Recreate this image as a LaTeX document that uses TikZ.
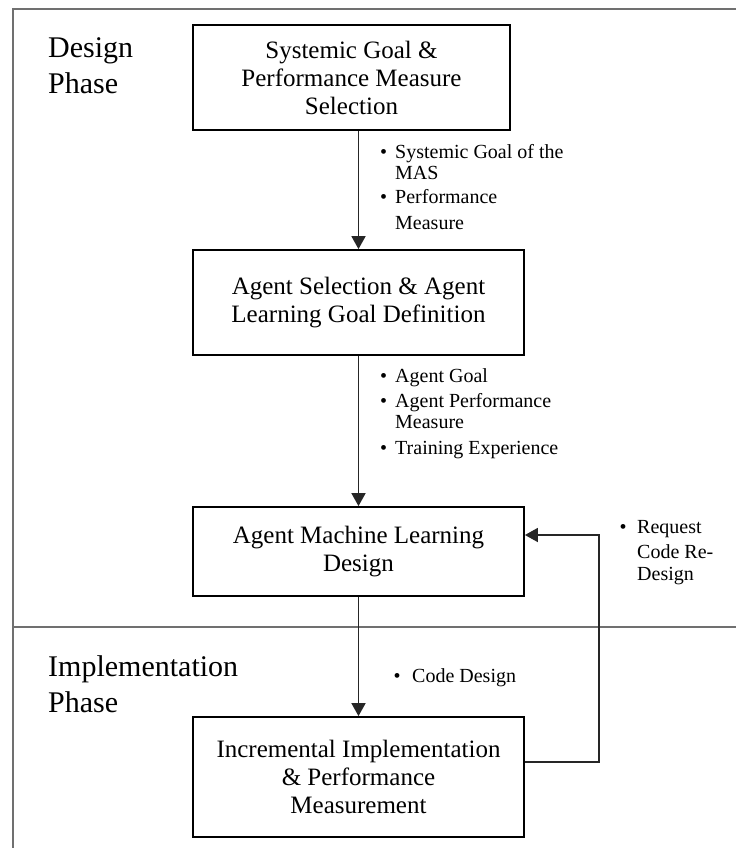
\documentclass[tikz,border=0pt]{standalone}
\usepackage{fontspec}
\setmainfont{Liberation Serif}
\usetikzlibrary{arrows.meta}
\definecolor{framegray}{HTML}{707070}
\definecolor{arrgray}{HTML}{262626}
\tikzset{
  box/.style={draw=black, line width=1.8pt, align=center, inner sep=0pt,
    font=\fontsize{25}{28}\selectfont},
  arr/.style={draw=arrgray, line width=1.7pt, -{Triangle[length=13pt,width=14pt]}},
  frameline/.style={draw=framegray, line width=1.4pt},
  phase/.style={anchor=base west, inner sep=0pt, align=left, font=\fontsize{30}{36}\selectfont},
  lbl/.style={anchor=base west, inner sep=0pt, font=\fontsize{20}{22}\selectfont}
}
\begin{document}
\begin{tikzpicture}[x=1pt,y=-1pt]
\useasboundingbox (0,0) rectangle (736,848);
\fill[white] (0,0) rectangle (736,848);
% frame
\draw[frameline] (736,9) -- (13,9) -- (13,848);
\draw[frameline] (13,627) -- (736,627);
% phase labels (base = last line)
\node[phase] (dp) at (48,94) {Design\\Phase};
\node[phase] (ip) at (48,712) {Implementation\\Phase};
% boxes
\node[box, minimum width=317pt, minimum height=105pt] (b1) at (351.5,77.5)
  {Systemic Goal \&\\Performance Measure\\Selection};
\node[box, minimum width=331pt, minimum height=105pt] (b2) at (358.5,302.5)
  {Agent Selection \& Agent\\Learning Goal Definition};
\node[box, minimum width=331pt, minimum height=89pt] (b3) at (358.5,551.5)
  {Agent Machine Learning\\Design};
\node[box, minimum width=331pt, minimum height=120pt] (b4) at (358.5,777)
  {Incremental Implementation\\\& Performance\\Measurement};
% arrows
\draw[arr] (b1.south -| b2.north) -- (b2.north);
\draw[arr] (b2.south) -- (b3.north);
\draw[arr] (b3.south) -- (b4.north);
\coordinate (fb) at (599,762);
\draw[arr] ([yshift=15pt]b4.east) -- (fb) |- ([yshift=16.5pt]b3.east);
% labels
\node[lbl] (l1) at (380,158) {\begin{tabular}[t]{@{}p{15pt}@{}l@{}}
  \textbullet & Systemic Goal of the\\[-1pt] & MAS\\[2pt]
  \textbullet & Performance\\[4pt] & Measure\end{tabular}};
\node[lbl] (l2) at (380,382) {\begin{tabular}[t]{@{}p{15pt}@{}l@{}}
  \textbullet & Agent Goal\\[3pt]
  \textbullet & Agent Performance\\[-1pt] & Measure\\[4pt]
  \textbullet & Training Experience\end{tabular}};
\node[lbl] (l3) at (619.5,533) {\begin{tabular}[t]{@{}p{17.5pt}@{}l@{}}
  \textbullet & Request\\[3pt] & Code Re-\\[0pt] & Design\end{tabular}};
\node[lbl] (l4) at (393.5,682) {\begin{tabular}[t]{@{}p{18.5pt}@{}l@{}}
  \textbullet & Code Design\end{tabular}};
\end{tikzpicture}
\end{document}
